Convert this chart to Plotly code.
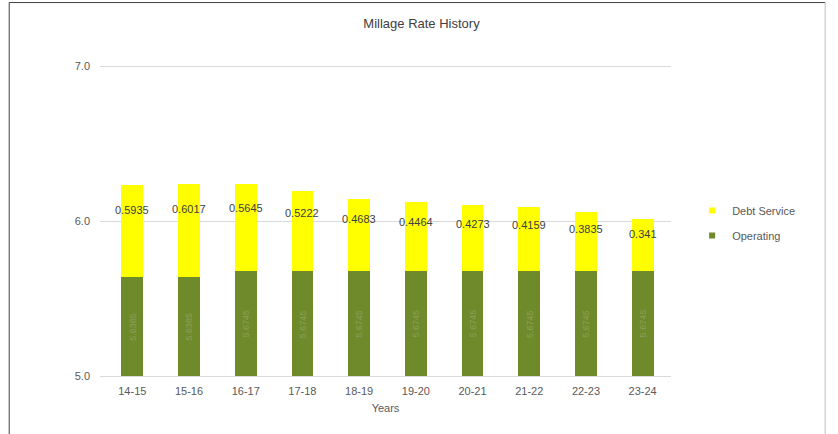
import plotly.graph_objects as go

years = ["14-15", "15-16", "16-17", "17-18", "18-19", "19-20", "20-21", "21-22", "22-23", "23-24"]
operating = [5.6385, 5.6385, 5.6745, 5.6745, 5.6745, 5.6745, 5.6745, 5.6745, 5.6745, 5.6745]
debt_service = [0.5935, 0.6017, 0.5645, 0.5222, 0.4683, 0.4464, 0.4273, 0.4159, 0.3835, 0.341]
y_ticks = [5.0, 6.0, 7.0]

GREEN = "#6F8A2A"
YELLOW = "#FFFF00"
GREY = "#595959"
AXIS_MIN = 5.0

fig = go.Figure()

# bars rise from zero and get cut at the axis minimum, like the Excel original
fig.add_trace(go.Bar(
    x=years, y=operating, name="Operating", showlegend=False,
    marker=dict(color=GREEN, line=dict(width=0)), width=0.385,
    hoverinfo="skip",
))
fig.add_trace(go.Bar(
    x=years, y=debt_service, name="Debt Service", showlegend=False,
    marker=dict(color=YELLOW, line=dict(width=0)), width=0.385,
    hoverinfo="skip",
))

# legend entries with the small square keys Excel uses
for name, col, grp in [("Debt Service", YELLOW, "a"), ("Operating", GREEN, "b")]:
    fig.add_trace(go.Scatter(
        x=[years[0]], y=[None], mode="markers", name=name, legendgroup=grp,
        marker=dict(symbol="square", size=6, color=col),
    ))

# faint rotated operating labels in the visible green part
for yr, op in zip(years, operating):
    fig.add_annotation(
        x=yr, y=(AXIS_MIN + op) / 2, text=f"{op:.4f}", showarrow=False,
        textangle=-90,
        font=dict(color="#8CA05A", size=9, family="Liberation Sans"),
    )

# debt service labels, in the upper part of the yellow segment
for yr, op, ds in zip(years, operating, debt_service):
    fig.add_annotation(
        x=yr, y=op + ds * 0.75, yshift=-2, text=f"{ds:g}", showarrow=False,
        font=dict(color="#404040", size=11, family="Liberation Sans"),
    )

# outer chart-area frame: darker top/left edge, light right edge
fig.add_shape(type="line", xref="paper", yref="paper",
              x0=-0.159, x1=-0.159, y0=-0.2, y1=1.197,
              line=dict(color="#404040", width=1))
fig.add_shape(type="line", xref="paper", yref="paper",
              x0=-0.159, x1=1.27, y0=1.197, y1=1.197,
              line=dict(color="#404040", width=1))
fig.add_shape(type="line", xref="paper", yref="paper",
              x0=1.27, x1=1.27, y0=-0.2, y1=1.197,
              line=dict(color="#BFBFBF", width=1))

fig.update_layout(
    barmode="stack",
    width=838, height=434,
    margin=dict(l=100, r=167, t=64, b=58),
    paper_bgcolor="white", plot_bgcolor="white",
    font=dict(family="Liberation Sans", color=GREY, size=11),
    title=dict(text="Millage Rate History", x=0.503, xanchor="center",
               y=0.945, yanchor="middle",
               font=dict(size=13, color="#404040")),
    legend=dict(x=1.037, y=0.49, xanchor="left", yanchor="middle",
                font=dict(size=11, color=GREY), tracegroupgap=6,
                itemwidth=30),
    showlegend=True,
)
fig.update_xaxes(
    title=dict(text="Years", standoff=8, font=dict(size=11, color=GREY)),
    showline=True, linecolor="#D9D9D9", linewidth=1,
    ticks="", showgrid=False, ticklabelstandoff=5,
)
fig.update_yaxes(
    range=[5.0, 7.013], tickvals=y_ticks, tickformat=".1f",
    showgrid=True, gridcolor="#D9D9D9", gridwidth=1,
    zeroline=False, showline=False, ticks="", ticklabelstandoff=9,
)

# drop the page body margin so the 838x434 figure fills the window exactly
fig.write_html("out.html", config={"displayModeBar": False},
               post_script="document.body.style.margin='0';")
